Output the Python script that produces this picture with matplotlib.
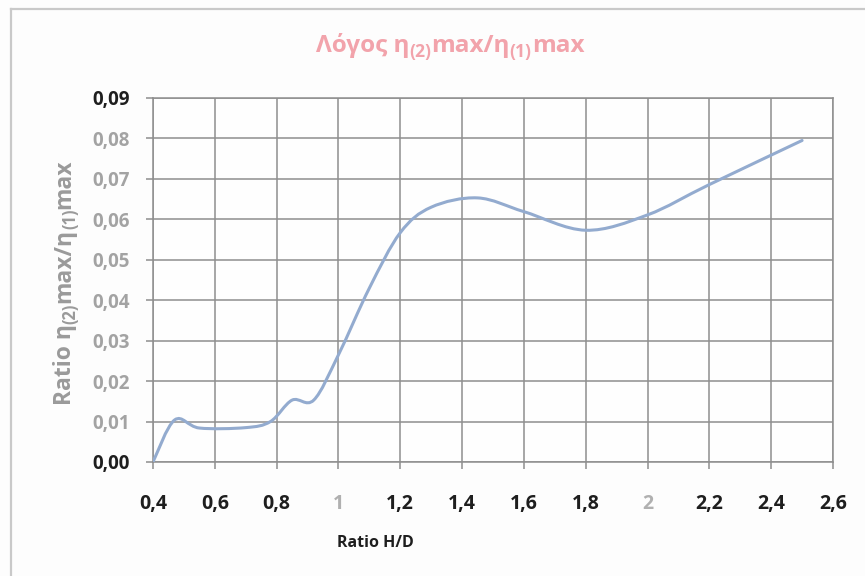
import numpy as np
import matplotlib
matplotlib.use("Agg")
import matplotlib.pyplot as plt
from matplotlib.path import Path
from matplotlib.patches import PathPatch
from matplotlib.lines import Line2D

# --- data -------------------------------------------------------------
hd_ratio = [0.40, 0.47, 0.55, 0.70, 0.78, 0.85, 0.92, 1.00, 1.10, 1.20,
            1.30, 1.45, 1.60, 1.80, 2.00, 2.20, 2.50]
eta_ratio = [0.0000, 0.0104, 0.0084, 0.0085, 0.0100, 0.0153, 0.0153, 0.0265,
             0.0430, 0.0567, 0.0630, 0.0653, 0.0619, 0.0573, 0.0611, 0.0686,
             0.0795]

x_ticks = [0.4, 0.6, 0.8, 1.0, 1.2, 1.4, 1.6, 1.8, 2.0, 2.2, 2.4, 2.6]
x_tick_labels = ["0,4", "0,6", "0,8", "1", "1,2", "1,4", "1,6", "1,8", "2",
                 "2,2", "2,4", "2,6"]
y_ticks = [0.00, 0.01, 0.02, 0.03, 0.04, 0.05, 0.06, 0.07, 0.08, 0.09]
y_tick_labels = ["0,00", "0,01", "0,02", "0,03", "0,04", "0,05", "0,06",
                 "0,07", "0,08", "0,09"]

# (text, is_subscript) runs
title_runs = [("Λόγος η", False), ("(2)", True), ("max/η", False), ("(1)", True), ("max", False)]
y_label_runs = [("Ratio η", False), ("(2)", True), ("max/η", False), ("(1)", True), ("max", False)]
x_label_text = "Ratio H/D"

# --- style ------------------------------------------------------------
plt.rcParams["font.family"] = ["Open Sans", "DejaVu Sans"]

W, H = 865, 576
fig = plt.figure(figsize=(W / 100, H / 100), dpi=100)
fig.patch.set_facecolor("#fdfdfd")
renderer = fig.canvas.get_renderer()

# chart-area frame (top and left edges)
frame_col = "#c9c9c9"
fig.add_artist(Line2D([11 / W, 1.0], [1 - 9 / H, 1 - 9 / H],
                      transform=fig.transFigure, color=frame_col, lw=1.6))
fig.add_artist(Line2D([11 / W, 11 / W], [0.0, 1 - 9 / H],
                      transform=fig.transFigure, color=frame_col, lw=1.6))

left, right, top, bottom = 153, 833, 98, 462
ax = fig.add_axes([left / W, 1 - bottom / H, (right - left) / W, (bottom - top) / H])
ax.set_facecolor("#fefefe")
ax.set_xlim(0.4, 2.6)
ax.set_ylim(0.0, 0.09)

grid_col = "#8e8e8e"
ax.set_xticks(x_ticks)
ax.set_xticklabels(x_tick_labels)
ax.set_yticks(y_ticks)
ax.set_yticklabels(y_tick_labels)
ax.grid(True, color=grid_col, lw=1.1)
ax.set_axisbelow(True)
for s in ax.spines.values():
    s.set_color(grid_col)
    s.set_linewidth(1.1)
ax.tick_params(axis="both", direction="out", length=5, width=1.1, color=grid_col)
ax.tick_params(axis="y", pad=12, labelsize=13.5)
ax.tick_params(axis="x", pad=18, labelsize=14)

for lab in ax.get_yticklabels():
    lab.set_fontweight("bold")
    lab.set_color("#1e1e1e" if lab.get_text() in ("0,00", "0,09") else "#a3a3a3")
for lab in ax.get_xticklabels():
    lab.set_fontweight("bold")
    lab.set_color("#b0b0b0" if lab.get_text() in ("1", "2") else "#1e1e1e")

# smoothed line through the points (cubic Bezier, Catmull-Rom control points)
pts = np.column_stack([hd_ratio, eta_ratio])
n = len(pts)
verts = [tuple(pts[0])]
codes = [Path.MOVETO]
for i in range(n - 1):
    p0 = pts[max(i - 1, 0)]
    p1 = pts[i]
    p2 = pts[i + 1]
    p3 = pts[min(i + 2, n - 1)]
    c1 = p1 + (p2 - p0) / 6.0
    c2 = p2 - (p3 - p1) / 6.0
    verts += [tuple(c1), tuple(c2), tuple(p2)]
    codes += [Path.CURVE4] * 3
curve = PathPatch(Path(verts, codes), facecolor="none", edgecolor="#93abcf",
                  lw=2.2, capstyle="round", joinstyle="round", zorder=3)
ax.add_patch(curve)


def run_width(s, size):
    t = fig.text(0, 0, s, fontsize=size, fontweight="bold")
    w = t.get_window_extent(renderer).width
    t.remove()
    return w


def rich_text(cx, cy, runs, size, color, vertical=False):
    """Lay out runs of text with subscripts, centred on pixel (cx, cy)."""
    sub_size = size * 0.72
    widths = [run_width(s, sub_size if sub else size) for s, sub in runs]
    total = sum(widths)
    base_shift = size * 100 / 72 * 0.33     # baseline sits below the centre
    sub_drop = size * 100 / 72 * 0.22
    pos = -total / 2
    for (s, sub), w in zip(runs, widths):
        drop = base_shift + (sub_drop if sub else 0.0)
        fs = sub_size if sub else size
        if vertical:
            x = cx + drop
            y = H - cy + pos
            fig.text(x / W, y / H, s, rotation=90, ha="left", va="baseline",
                     rotation_mode="anchor", fontsize=fs, fontweight="bold",
                     color=color)
        else:
            x = cx + pos
            y = H - cy - drop
            fig.text(x / W, y / H, s, ha="left", va="baseline",
                     fontsize=fs, fontweight="bold", color=color)
        pos += w


rich_text(450, 44, title_runs, 17.5, "#f2a3ab")
rich_text(63, 282, y_label_runs, 16.5, "#9a9a9a", vertical=True)
fig.text(375 / W, 1 - 543 / H, x_label_text, ha="center", va="center",
         fontsize=11.5, fontweight="bold", color="#1e1e1e")

fig.savefig("out.png", dpi=100, facecolor=fig.get_facecolor())
